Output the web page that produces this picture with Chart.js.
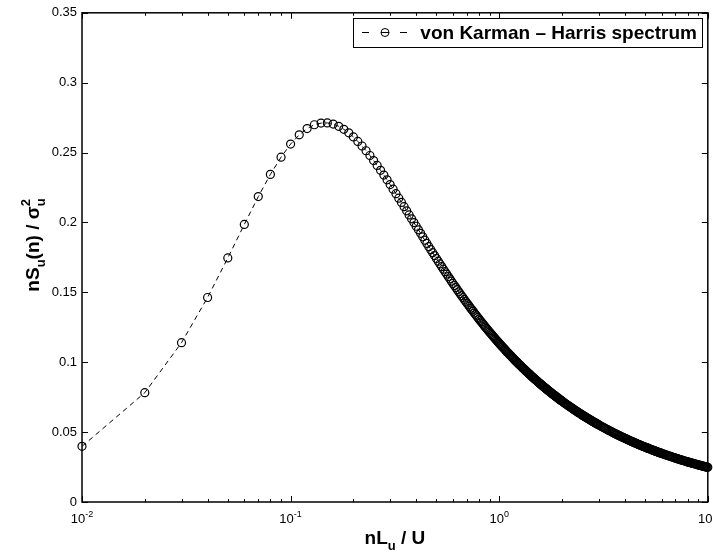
<!DOCTYPE html>
<html>
<head>
<meta charset="utf-8">
<script src="https://cdn.jsdelivr.net/npm/chart.js@4.4.0/dist/chart.umd.min.js"></script>
<style>
  html, body { margin: 0; padding: 0; background: #fff; }
  #wrap { width: 713px; height: 559px; }
</style>
</head>
<body>
<div id="wrap"><canvas id="spectrumChart" width="713" height="559"></canvas></div>
<script>
// reduced frequency nL_u / U
const nLuU = [
  0.01,0.02,0.03,0.04,0.05,0.06,0.07,0.08,0.09,0.1,
  0.11,0.12,0.13,0.14,0.15,0.16,0.17,0.18,0.19,0.2,
  0.21,0.22,0.23,0.24,0.25,0.26,0.27,0.28,0.29,0.3,
  0.31,0.32,0.33,0.34,0.35,0.36,0.37,0.38,0.39,0.4,
  0.41,0.42,0.43,0.44,0.45,0.46,0.47,0.48,0.49,0.5,
  0.51,0.52,0.53,0.54,0.55,0.56,0.57,0.58,0.59,0.6,
  0.61,0.62,0.63,0.64,0.65,0.66,0.67,0.68,0.69,0.7,
  0.71,0.72,0.73,0.74,0.75,0.76,0.77,0.78,0.79,0.8,
  0.81,0.82,0.83,0.84,0.85,0.86,0.87,0.88,0.89,0.9,
  0.91,0.92,0.93,0.94,0.95,0.96,0.97,0.98,0.99,1,
  1.01,1.02,1.03,1.04,1.05,1.06,1.07,1.08,1.09,1.1,
  1.11,1.12,1.13,1.14,1.15,1.16,1.17,1.18,1.19,1.2,
  1.21,1.22,1.23,1.24,1.25,1.26,1.27,1.28,1.29,1.3,
  1.31,1.32,1.33,1.34,1.35,1.36,1.37,1.38,1.39,1.4,
  1.41,1.42,1.43,1.44,1.45,1.46,1.47,1.48,1.49,1.5,
  1.51,1.52,1.53,1.54,1.55,1.56,1.57,1.58,1.59,1.6,
  1.61,1.62,1.63,1.64,1.65,1.66,1.67,1.68,1.69,1.7,
  1.71,1.72,1.73,1.74,1.75,1.76,1.77,1.78,1.79,1.8,
  1.81,1.82,1.83,1.84,1.85,1.86,1.87,1.88,1.89,1.9,
  1.91,1.92,1.93,1.94,1.95,1.96,1.97,1.98,1.99,2,
  2.02,2.04,2.06,2.08,2.1,2.12,2.14,2.16,2.18,2.2,
  2.22,2.24,2.26,2.28,2.3,2.32,2.34,2.36,2.38,2.4,
  2.42,2.44,2.46,2.48,2.5,2.52,2.54,2.56,2.58,2.6,
  2.62,2.64,2.66,2.68,2.7,2.72,2.74,2.76,2.78,2.8,
  2.82,2.84,2.86,2.88,2.9,2.92,2.94,2.96,2.98,3,
  3.04,3.08,3.12,3.16,3.2,3.24,3.28,3.32,3.36,3.4,
  3.44,3.48,3.52,3.56,3.6,3.64,3.68,3.72,3.76,3.8,
  3.84,3.88,3.92,3.96,4,4.04,4.08,4.12,4.16,4.2,
  4.24,4.28,4.32,4.36,4.4,4.44,4.48,4.52,4.56,4.6,
  4.64,4.68,4.72,4.76,4.8,4.84,4.88,4.92,4.96,5,
  5.04,5.08,5.12,5.16,5.2,5.24,5.28,5.32,5.36,5.4,
  5.44,5.48,5.52,5.56,5.6,5.64,5.68,5.72,5.76,5.8,
  5.84,5.88,5.92,5.96,6,
  6.08,6.16,6.24,6.32,6.4,6.48,6.56,6.64,6.72,6.8,
  6.88,6.96,7.04,7.12,7.2,7.28,7.36,7.44,7.52,7.6,
  7.68,7.76,7.84,7.92,8,8.08,8.16,8.24,8.32,8.4,
  8.48,8.56,8.64,8.72,8.8,8.88,8.96,9.04,9.12,9.2,
  9.28,9.36,9.44,9.52,9.6,9.68,9.76,9.84,9.92,10
];

// nS_u(n) / sigma_u^2
const spectrum = [
  0.0398,0.0782,0.1140,0.1463,0.1746,0.1986,0.2185,0.2344,0.2467,0.2561,
  0.2627,0.2672,0.2699,0.2711,0.2712,0.2704,0.2688,0.2666,0.2641,0.2612,
  0.2580,0.2547,0.2513,0.2479,0.2443,0.2408,0.2373,0.2339,0.2305,0.2271,
  0.2238,0.2206,0.2174,0.2143,0.2113,0.2083,0.2054,0.2026,0.1999,0.1973,
  0.1947,0.1922,0.1897,0.1873,0.1850,0.1827,0.1805,0.1784,0.1763,0.1742,
  0.1723,0.1703,0.1684,0.1666,0.1648,0.1631,0.1613,0.1597,0.1580,0.1564,
  0.1549,0.1534,0.1519,0.1504,0.1490,0.1476,0.1463,0.1449,0.1436,0.1423,
  0.1411,0.1399,0.1387,0.1375,0.1364,0.1352,0.1341,0.1331,0.1320,0.1309,
  0.1299,0.1289,0.1279,0.1270,0.1260,0.1251,0.1242,0.1233,0.1224,0.1215,
  0.1207,0.1198,0.1190,0.1182,0.1174,0.1166,0.1158,0.1151,0.1143,0.1136,
  0.1129,0.1121,0.1114,0.1107,0.1101,0.1094,0.1087,0.1081,0.1074,0.1068,
  0.1062,0.1056,0.1050,0.1044,0.1038,0.1032,0.1026,0.1020,0.1015,0.1009,
  0.1004,0.0999,0.0993,0.0988,0.0983,0.0978,0.0973,0.0968,0.0963,0.0958,
  0.0953,0.0949,0.0944,0.0939,0.0935,0.0930,0.0926,0.0921,0.0917,0.0913,
  0.0909,0.0904,0.0900,0.0896,0.0892,0.0888,0.0884,0.0880,0.0876,0.0872,
  0.0869,0.0865,0.0861,0.0857,0.0854,0.0850,0.0847,0.0843,0.0840,0.0836,
  0.0833,0.0829,0.0826,0.0823,0.0819,0.0816,0.0813,0.0810,0.0807,0.0803,
  0.0800,0.0797,0.0794,0.0791,0.0788,0.0785,0.0782,0.0779,0.0777,0.0774,
  0.0771,0.0768,0.0765,0.0763,0.0760,0.0757,0.0755,0.0752,0.0749,0.0747,
  0.0744,0.0742,0.0739,0.0736,0.0734,0.0731,0.0729,0.0727,0.0724,0.0722,
  0.0717,0.0712,0.0708,0.0703,0.0699,0.0694,0.0690,0.0686,0.0682,0.0678,
  0.0674,0.0670,0.0666,0.0662,0.0658,0.0654,0.0651,0.0647,0.0643,0.0640,
  0.0636,0.0633,0.0629,0.0626,0.0623,0.0619,0.0616,0.0613,0.0610,0.0607,
  0.0604,0.0601,0.0598,0.0595,0.0592,0.0589,0.0586,0.0583,0.0580,0.0578,
  0.0575,0.0572,0.0570,0.0567,0.0564,0.0562,0.0559,0.0557,0.0554,0.0552,
  0.0547,0.0542,0.0538,0.0533,0.0529,0.0524,0.0520,0.0516,0.0512,0.0508,
  0.0504,0.0500,0.0496,0.0492,0.0489,0.0485,0.0482,0.0478,0.0475,0.0471,
  0.0468,0.0465,0.0462,0.0459,0.0456,0.0453,0.0450,0.0447,0.0444,0.0441,
  0.0438,0.0436,0.0433,0.0430,0.0428,0.0425,0.0423,0.0420,0.0418,0.0415,
  0.0413,0.0410,0.0408,0.0406,0.0404,0.0401,0.0399,0.0397,0.0395,0.0393,
  0.0391,0.0389,0.0387,0.0385,0.0383,0.0381,0.0379,0.0377,0.0375,0.0373,
  0.0371,0.0370,0.0368,0.0366,0.0364,0.0363,0.0361,0.0359,0.0357,0.0356,
  0.0354,0.0353,0.0351,0.0349,0.0348,
  0.0345,0.0342,0.0339,0.0336,0.0333,0.0331,0.0328,0.0325,0.0323,0.0320,
  0.0318,0.0315,0.0313,0.0310,0.0308,0.0306,0.0304,0.0301,0.0299,0.0297,
  0.0295,0.0293,0.0291,0.0289,0.0287,0.0285,0.0283,0.0282,0.0280,0.0278,
  0.0276,0.0275,0.0273,0.0271,0.0270,0.0268,0.0266,0.0265,0.0263,0.0262,
  0.0260,0.0259,0.0257,0.0256,0.0254,0.0253,0.0252,0.0250,0.0249,0.0248
];

const yTicks = [0, 0.05, 0.1, 0.15, 0.2, 0.25, 0.3, 0.35];
const xDecades = [0.01, 0.1, 1, 10];
const xDecadeExp = ['-2', '-1', '0', '1'];
const seriesLabel = 'von Karman \u2013 Harris spectrum';

const FONT = "'Liberation Sans', Arial, Helvetica, sans-serif";
Chart.defaults.font.family = FONT;
Chart.defaults.color = '#000';

if (nLuU.length !== spectrum.length) console.error('length mismatch', nLuU.length, spectrum.length);

function partWidth(ctx, p) {
  if (p.stack) return Math.max(...p.stack.map(q => partWidth(ctx, q)));
  ctx.font = `${p.weight || 'bold'} ${p.size}px ${FONT}`;
  return ctx.measureText(p.text).width;
}

// draws text with sub/superscripts, centred on cx
function drawParts(ctx, parts, cx, baseline) {
  const total = parts.reduce((s, p) => s + partWidth(ctx, p), 0);
  let x = cx - total / 2;
  ctx.textAlign = 'left';
  ctx.textBaseline = 'alphabetic';
  parts.forEach(p => {
    const w = partWidth(ctx, p);
    (p.stack || [p]).forEach(q => {
      ctx.font = `${q.weight || 'bold'} ${q.size}px ${FONT}`;
      ctx.fillText(q.text, x, baseline + (q.dy || 0));
    });
    x += w;
  });
}

const matlabAxes = {
  id: 'matlabAxes',
  afterDatasetsDraw(chart) {
    const { ctx, chartArea: a, scales: { x, y } } = chart;
    ctx.save();
    ctx.strokeStyle = '#000';
    ctx.fillStyle = '#000';

    // inward ticks
    ctx.lineWidth = 1;
    ctx.beginPath();
    yTicks.forEach(v => {
      const py = Math.round(y.getPixelForValue(v)) + 0.5;
      ctx.moveTo(a.left, py); ctx.lineTo(a.left + 6, py);
      ctx.moveTo(a.right, py); ctx.lineTo(a.right - 6, py);
    });
    xDecades.forEach((d, i) => {
      const px = Math.round(x.getPixelForValue(d)) + 0.5;
      ctx.moveTo(px, a.bottom); ctx.lineTo(px, a.bottom - 6);
      ctx.moveTo(px, a.top); ctx.lineTo(px, a.top + 6);
      if (i === xDecades.length - 1) return;
      for (let k = 2; k <= 9; k++) {
        const mx = Math.round(x.getPixelForValue(k * d)) + 0.5;
        ctx.moveTo(mx, a.bottom); ctx.lineTo(mx, a.bottom - 3);
        ctx.moveTo(mx, a.top); ctx.lineTo(mx, a.top + 3);
      }
    });
    ctx.stroke();

    // box
    ctx.lineWidth = 1.5;
    ctx.strokeRect(a.left, a.top, a.right - a.left, a.bottom - a.top);

    // x tick labels 10^k
    xDecades.forEach((d, i) => {
      drawParts(ctx, [
        { text: '10', size: 13, weight: 'normal' },
        { text: xDecadeExp[i], size: 9, weight: 'normal', dy: -6 }
      ], x.getPixelForValue(d), 523);
    });

    // axis titles
    drawParts(ctx, [
      { text: 'nL', size: 19 },
      { text: 'u', size: 13, dy: 6 },
      { text: ' / U', size: 19 }
    ], (a.left + a.right) / 2, 544);

    ctx.save();
    ctx.translate(39, 245);
    ctx.rotate(-Math.PI / 2);
    drawParts(ctx, [
      { text: 'nS', size: 19 },
      { text: 'u', size: 13, dy: 6 },
      { text: '(n) / \u03c3', size: 19 },
      { stack: [{ text: '2', size: 13, dy: -9 }, { text: 'u', size: 13, dy: 6 }] }
    ], 0, 0);
    ctx.restore();

    // legend
    const lx = 353, ly = 18, lw = 349, lh = 29, cy = ly + lh / 2;
    ctx.fillStyle = '#fff';
    ctx.fillRect(lx, ly, lw, lh);
    ctx.lineWidth = 1;
    ctx.strokeRect(lx + 0.5, ly + 0.5, lw, lh);
    ctx.beginPath();
    ctx.moveTo(362, cy); ctx.lineTo(369, cy);
    ctx.moveTo(381, cy); ctx.lineTo(389, cy);
    ctx.moveTo(400, cy); ctx.lineTo(407, cy);
    ctx.stroke();
    ctx.beginPath();
    ctx.arc(385, cy, 4, 0, Math.PI * 2);
    ctx.stroke();
    ctx.fillStyle = '#000';
    ctx.font = `bold 19px ${FONT}`;
    ctx.textAlign = 'right';
    ctx.textBaseline = 'middle';
    ctx.fillText(seriesLabel, lx + lw - 5, cy + 1);
    ctx.restore();
  }
};

new Chart(document.getElementById('spectrumChart'), {
  type: 'line',
  data: {
    datasets: [{
      label: seriesLabel,
      data: nLuU.map((v, i) => ({ x: v, y: spectrum[i] })),
      borderColor: '#000',
      borderWidth: 1,
      borderDash: [5, 4],
      pointStyle: 'circle',
      pointRadius: 4,
      pointBorderWidth: 1.2,
      pointBorderColor: '#000',
      pointBackgroundColor: 'rgba(0,0,0,0)',
      tension: 0,
      fill: false,
      clip: false
    }]
  },
  options: {
    responsive: false,
    animation: false,
    events: [],
    devicePixelRatio: 1,
    layout: { padding: { top: 8, right: 5, left: 0, bottom: 0 } },
    plugins: { legend: { display: false }, tooltip: { enabled: false } },
    scales: {
      x: {
        type: 'logarithmic',
        min: 0.01,
        max: 10,
        ticks: { display: false },
        grid: { display: false, drawTicks: false },
        border: { display: false },
        afterFit: s => { s.height = 57; }
      },
      y: {
        type: 'linear',
        min: 0,
        max: 0.35,
        afterBuildTicks: s => { s.ticks = yTicks.map(v => ({ value: v })); },
        ticks: { color: '#000', font: { size: 13 }, padding: 5, callback: v => String(+v.toFixed(2)) },
        grid: { display: false, drawTicks: false },
        border: { display: false },
        afterFit: s => { s.height; s.width = 82; }
      }
    }
  },
  plugins: [matlabAxes]
});
</script>
</body>
</html>
